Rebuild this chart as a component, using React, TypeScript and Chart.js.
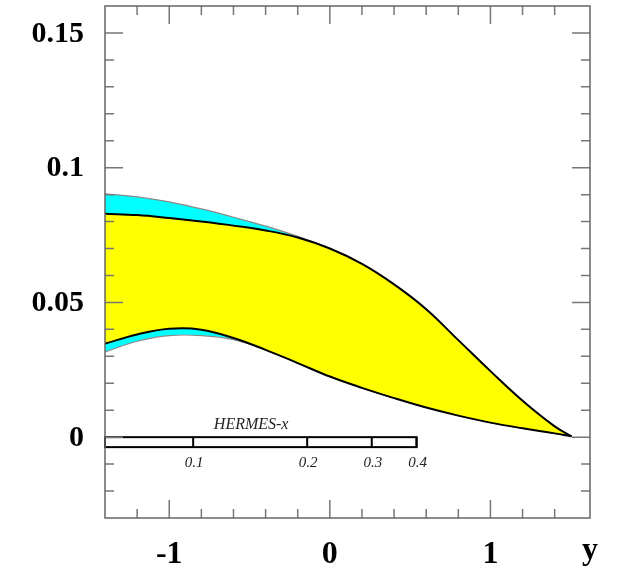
import React, { useEffect, useRef } from "react";
import { Chart, registerables } from "chart.js";

Chart.register(...registerables);

// rapidity grid (x axis: y)
const rapidity = [-1.4, -1.2, -1.0, -0.8, -0.6, -0.4, -0.2, 0, 0.2, 0.4, 0.6, 0.8, 1.0, 1.2, 1.4, 1.505];
// inner (yellow) band
const innerUpper = [0.0829, 0.0824, 0.0813, 0.0800, 0.0785, 0.0767, 0.0741, 0.0700, 0.0643, 0.0567, 0.0475, 0.0360, 0.0245, 0.0135, 0.0040, 0.0003];
const innerLower = [0.0347, 0.0381, 0.0402, 0.0399, 0.0368, 0.0324, 0.0275, 0.0225, 0.0183, 0.0145, 0.0110, 0.0080, 0.0054, 0.0033, 0.0014, 0.0003];
// outer (cyan) band
const outerUpper = [0.0903, 0.0892, 0.0873, 0.0847, 0.0816, 0.0783, 0.0745, 0.0700, 0.0643, 0.0567, 0.0475, 0.0360, 0.0245, 0.0135, 0.0040, 0.0003];
const outerLower = [0.0316, 0.0356, 0.0377, 0.0377, 0.0362, 0.0324, 0.0275, 0.0225, 0.0183, 0.0145, 0.0110, 0.0080, 0.0054, 0.0033, 0.0014, 0.0003];

// axes
const xRange = [-1.4, 1.62];
const yRange = [-0.03, 0.16];
const xMajorTicks = [-1, 0, 1];
const xMajorLabels = ["-1", "0", "1"];
const xMinorTicks = [-1.2, -0.8, -0.6, -0.4, -0.2, 0.2, 0.4, 0.6, 0.8, 1.2, 1.4];
const yMajorTicks = [0, 0.05, 0.1, 0.15];
const yMajorLabels = ["0", "0.05", "0.1", "0.15"];
const yMinorTicks = [-0.02, -0.01, 0.01, 0.02, 0.03, 0.04, 0.06, 0.07, 0.08, 0.09, 0.11, 0.12, 0.13, 0.14];
const xTitle = "y";

// HERMES-x secondary scale (positions in rapidity)
const hermesTitle = "HERMES-x";
const hermesTickPos = [-0.851, -0.141, 0.261, 0.54];
const hermesTickLabels = ["0.1", "0.2", "0.3", "0.4"];
const hermesBarStart = -1.4;
const hermesBarTop = 0.0;
const hermesBarBottom = -0.0037;

const pts = (vals: number[]) => rapidity.map((x, i) => ({ x, y: vals[i] }));

const axesPlugin = {
  id: "axesPlugin",
  afterDatasetsDraw(chart: any) {
    const { ctx, chartArea: a, scales } = chart;
    const xs = scales.x;
    const ys = scales.y;
    ctx.save();

    // HERMES-x bar
    const bx0 = xs.getPixelForValue(hermesBarStart);
    const bx1 = xs.getPixelForValue(hermesTickPos[hermesTickPos.length - 1]);
    const by0 = ys.getPixelForValue(hermesBarTop);
    const by1 = ys.getPixelForValue(hermesBarBottom);
    ctx.fillStyle = "#ffffff";
    ctx.fillRect(bx0, by0, bx1 - bx0, by1 - by0);
    ctx.strokeStyle = "#000000";
    ctx.lineWidth = 2;
    ctx.strokeRect(bx0, by0, bx1 - bx0, by1 - by0);
    ctx.beginPath();
    hermesTickPos.forEach((v) => {
      const px = xs.getPixelForValue(v);
      ctx.moveTo(px, by0);
      ctx.lineTo(px, by1);
    });
    ctx.stroke();
    ctx.fillStyle = "#222";
    ctx.font = 'italic 15px "Liberation Serif"';
    ctx.textAlign = "center";
    ctx.textBaseline = "middle";
    hermesTickPos.forEach((v, i) => {
      ctx.fillText(hermesTickLabels[i], xs.getPixelForValue(v) + 1, by1 + 16);
    });
    ctx.font = 'italic 16px "Liberation Serif"';
    ctx.fillText(hermesTitle, xs.getPixelForValue(-0.49), by0 - 12);

    // ticks
    ctx.strokeStyle = "#777777";
    ctx.lineWidth = 1.5;
    ctx.beginPath();
    const xt = (v: number, len: number) => {
      const px = xs.getPixelForValue(v);
      ctx.moveTo(px, a.bottom);
      ctx.lineTo(px, a.bottom - len);
      ctx.moveTo(px, a.top);
      ctx.lineTo(px, a.top + len);
    };
    const yt = (v: number, len: number) => {
      const py = ys.getPixelForValue(v);
      ctx.moveTo(a.left, py);
      ctx.lineTo(a.left + len, py);
      ctx.moveTo(a.right, py);
      ctx.lineTo(a.right - len, py);
    };
    xMajorTicks.forEach((v) => xt(v, 18));
    xMinorTicks.forEach((v) => xt(v, 9));
    yMajorTicks.forEach((v) => yt(v, 18));
    yMinorTicks.forEach((v) => yt(v, 9));
    ctx.stroke();

    // frame
    ctx.strokeStyle = "#666666";
    ctx.lineWidth = 1.5;
    ctx.strokeRect(a.left, a.top, a.right - a.left, a.bottom - a.top);

    // labels
    ctx.fillStyle = "#000000";
    ctx.font = 'bold 30px "Liberation Serif"';
    ctx.textAlign = "right";
    ctx.textBaseline = "middle";
    yMajorTicks.forEach((v, i) => {
      ctx.fillText(yMajorLabels[i], a.left - 21, ys.getPixelForValue(v) + 1);
    });
    ctx.font = 'bold 32px "Liberation Serif"';
    ctx.textAlign = "center";
    ctx.textBaseline = "alphabetic";
    xMajorTicks.forEach((v, i) => {
      ctx.fillText(xMajorLabels[i], xs.getPixelForValue(v), a.bottom + 45);
    });
    ctx.fillText(xTitle, a.right, a.bottom + 41);
    ctx.restore();
  },
};

export default function App() {
  const ref = useRef<HTMLCanvasElement | null>(null);
  useEffect(() => {
    if (!ref.current) return;
    const line = (vals: number[], color: string, width: number, fill: any, bg: string, order: number) => ({
      data: pts(vals),
      borderColor: color,
      borderWidth: width,
      backgroundColor: bg,
      fill,
      pointRadius: 0,
      tension: 0.4,
      order,
    });
    const chart = new Chart(ref.current, {
      type: "line",
      data: {
        datasets: [
          line(outerUpper, "#8a8a8a", 1.2, 1, "#00ffff", 4),
          line(outerLower, "#8a8a8a", 1.2, false, "#00ffff", 3),
          line(innerUpper, "#000000", 2, 3, "#ffff00", 2),
          line(innerLower, "#000000", 2, false, "#ffff00", 1),
        ],
      },
      plugins: [axesPlugin],
      options: {
        animation: false,
        responsive: false,
        maintainAspectRatio: false,
        layout: { padding: { left: 105, right: 28, top: 6, bottom: 51 } },
        plugins: { legend: { display: false }, tooltip: { enabled: false } },
        scales: {
          x: { type: "linear", min: xRange[0], max: xRange[1], display: false },
          y: { type: "linear", min: yRange[0], max: yRange[1], display: false },
        },
      },
    });
    return () => chart.destroy();
  }, []);
  return (
    <div style={{ position: "absolute", left: 0, top: 0, width: 618, height: 569, background: "#fff" }}>
      <canvas ref={ref} width={618} height={569} style={{ display: "block" }} />
    </div>
  );
}
